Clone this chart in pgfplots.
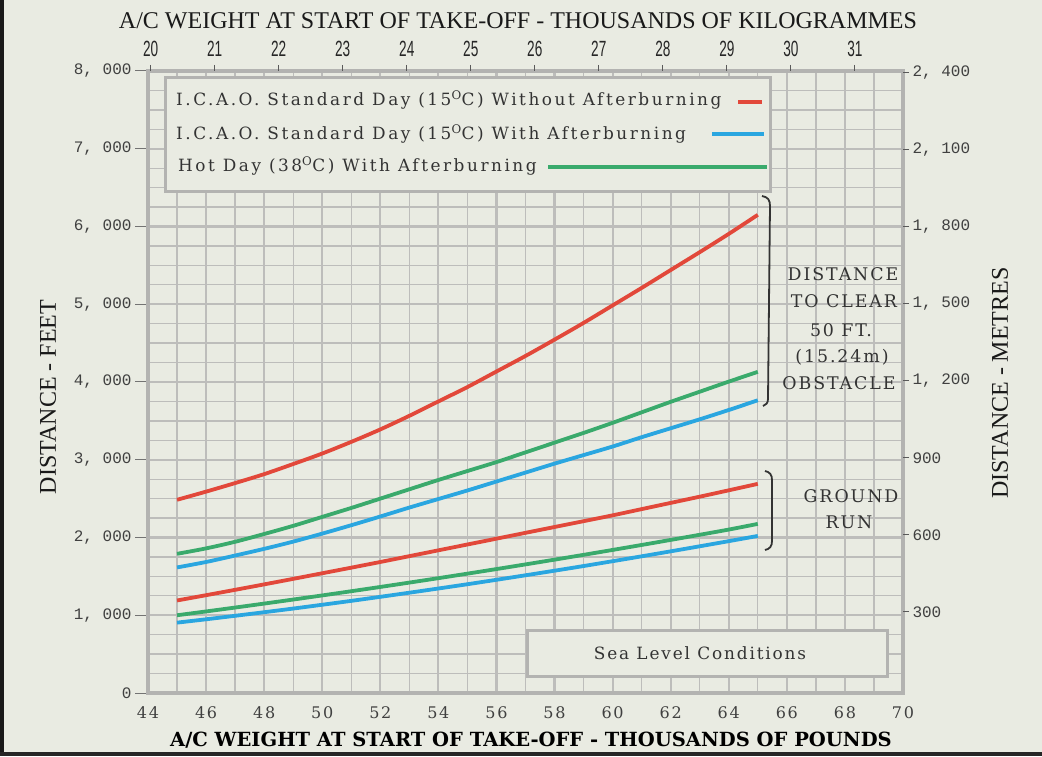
\documentclass[border=0pt]{standalone}
\usepackage{fontspec}
\setmainfont{DejaVu Serif}
\usepackage{pgfplots}
\pgfplotsset{compat=1.18}
\newfontfamily\mono{Liberation Mono}
\newfontfamily\tw[LetterSpace=11]{DejaVu Serif}
\newfontfamily\legfont[LetterSpace=15]{DejaVu Serif}
\newfontfamily\ttl{Liberation Serif}
\newfontfamily\narrow[FakeStretch=0.62]{Liberation Sans}
\definecolor{bg}{HTML}{E9EBE2}
\definecolor{gridc}{HTML}{BDBDBB}
\definecolor{framec}{HTML}{B3B3B1}
\definecolor{cred}{HTML}{E2483A}
\definecolor{cblue}{HTML}{2AA6E0}
\definecolor{cgreen}{HTML}{3AAA6C}

\begin{document}
\begin{tikzpicture}[x=1pt,y=1pt]
\fill[bg] (0,0) rectangle (1042,756);
\useasboundingbox (0,0) rectangle (1042,756);
\fill[black!90] (0,0) rectangle (4,756);
\fill[black!85] (0,0) rectangle (1042,4);

% main axis: pounds / feet
\begin{axis}[at={(148pt,63pt)}, anchor=south west, scale only axis,
 width=755pt, height=622pt,
 xmin=44, xmax=70, ymin=0, ymax=8000,
 xtick={44,46,...,70}, minor x tick num=1,
 ytick={0,1000,...,8000}, minor y tick num=3,
 grid=both,
 major grid style={gridc, line width=2.2pt},
 minor grid style={gridc, line width=1.3pt},
 axis line style={framec, line width=3.5pt},
 major tick length=0pt, minor tick length=0pt,
 xticklabels={44,46,48,50,52,54,56,58,60,62,64,66,68,70},
 yticklabels={0,{1, 000},{2, 000},{3, 000},{4, 000},{5, 000},{6, 000},{7, 000},{8, 000}},
 xticklabel style={font=\fontsize{16}{16}\selectfont\tw, yshift=-10pt, text=black!75},
 yticklabel style={font=\fontsize{16}{16}\selectfont\mono, xshift=-13pt, text=black!75},
]
% distance to clear 50 ft obstacle
\addplot[cred, line width=3.8pt, smooth] coordinates {
 (45,2485) (46,2590) (47,2700) (48,2815) (49,2945) (50,3080) (51,3230)
 (52,3390) (53,3565) (54,3750) (55,3935) (56,4135) (57,4335) (58,4545)
 (59,4760) (60,4985) (61,5210) (62,5440) (63,5670) (64,5905) (65,6150)};
\addplot[cblue, line width=3.8pt, smooth] coordinates {
 (45,1615) (46,1685) (47,1768) (48,1854) (49,1947) (50,2050) (51,2158)
 (52,2270) (53,2385) (54,2495) (55,2605) (56,2720) (57,2835) (58,2950)
 (59,3060) (60,3170) (61,3290) (62,3405) (63,3520) (64,3640) (65,3765)};
\addplot[cgreen, line width=3.8pt, smooth] coordinates {
 (45,1790) (46,1860) (47,1945) (48,2045) (49,2150) (50,2265) (51,2380)
 (52,2500) (53,2620) (54,2740) (55,2855) (56,2970) (57,3095) (58,3220)
 (59,3345) (60,3475) (61,3610) (62,3745) (63,3875) (64,4005) (65,4130)};
% ground run
\addplot[cred, line width=3.8pt, smooth] coordinates {
 (45,1190) (46,1258) (47,1327) (48,1397) (49,1468) (50,1540) (51,1612)
 (52,1685) (53,1760) (54,1835) (55,1910) (56,1985) (57,2060) (58,2135)
 (59,2210) (60,2285) (61,2365) (62,2445) (63,2525) (64,2607) (65,2690)};
\addplot[cgreen, line width=3.8pt, smooth] coordinates {
 (45,1000) (46,1049) (47,1099) (48,1150) (49,1202) (50,1255) (51,1309)
 (52,1364) (53,1420) (54,1477) (55,1535) (56,1594) (57,1654) (58,1715)
 (59,1777) (60,1840) (61,1904) (62,1969) (63,2035) (64,2102) (65,2175)};
\addplot[cblue, line width=3.8pt, smooth] coordinates {
 (45,905) (46,948) (47,993) (48,1039) (49,1086) (50,1135) (51,1185)
 (52,1237) (53,1290) (54,1344) (55,1399) (56,1456) (57,1514) (58,1573)
 (59,1633) (60,1695) (61,1758) (62,1822) (63,1887) (64,1953) (65,2020)};
\end{axis}

% second axis: kilogrammes / metres
\begin{axis}[at={(148pt,63pt)}, anchor=south west, scale only axis,
 width=755pt, height=622pt,
 xmin=19.9581, xmax=31.7515, ymin=-15.6, ymax=2407.8,
 axis x line*=top, axis y line*=right, axis line style={draw=none},
 xtick={20,...,31}, ytick={300,600,...,2400},
 xticklabels={20,21,22,23,24,25,26,27,28,29,30,31},
 yticklabels={300,600,900,{1, 200},{1, 500},{1, 800},{2, 100},{2, 400}},
 tick align=outside, major tick length=6pt,
 tick style={black!65, line width=1pt},
 xticklabel style={font=\fontsize{22}{22}\selectfont\narrow, yshift=5pt, text=black!85},
 yticklabel style={font=\fontsize{16}{16}\selectfont\mono, text=black!75},
]
\addplot[draw=none] coordinates {(20,0)};
\end{axis}

% left tick dashes
\foreach \v in {0,...,8} \draw[black!55, line width=1pt] (135,63+\v*77.75) -- (146,63+\v*77.75);

% titles
\node[font=\fontsize{24}{24}\selectfont\ttl, text=black!90] at (518,735) {A/C WEIGHT AT START OF TAKE-OFF - THOUSANDS OF KILOGRAMMES};
\node[font=\fontsize{19.5}{20}\selectfont\bfseries, text=black] at (531,16) {A/C WEIGHT AT START OF TAKE-OFF - THOUSANDS OF POUNDS};
\node[rotate=90, font=\fontsize{24}{24}\selectfont\ttl, text=black!90] at (48,359) {DISTANCE - FEET};
\node[rotate=90, font=\fontsize{24}{24}\selectfont\ttl, text=black!90] at (1000,373) {DISTANCE - METRES};

% legend
\draw[framec, line width=3pt, fill=bg] (165,564) rectangle (770,678);
\begin{scope}[font=\fontsize{16.9}{17}\selectfont\legfont, text=black!80]
\node[anchor=base west, inner sep=0] at (176,650) {I.C.A.O. Standard Day (15\textsuperscript{O}C) Without Afterburning};
\node[anchor=base west, inner sep=0] at (176,616) {I.C.A.O. Standard Day (15\textsuperscript{O}C) With Afterburning};
\node[anchor=base west, inner sep=0] at (178,584) {Hot Day (38\textsuperscript{O}C) With Afterburning};
\end{scope}
\draw[cred, line width=3.8pt] (738,654) -- (762,654);
\draw[cblue, line width=3.8pt] (712,622) -- (764,622);
\draw[cgreen, line width=3.8pt] (548,589) -- (767,589);

% sea level box
\draw[framec, line width=3pt, fill=bg] (527,80) rectangle (887,126);
\node[font=\fontsize{16.9}{17}\selectfont\tw, text=black!80] at (700,103) {Sea Level Conditions};

% braces and labels
\draw[black!80, line width=1.8pt] (762,560) .. controls (768,559) and (770,556) .. (770,550) -- (768,357) .. controls (768,353) and (766,351) .. (763,350);
\draw[black!80, line width=1.8pt] (765,285) .. controls (770,284) and (772,281) .. (772,276) -- (772,215) .. controls (772,210) and (770,207) .. (765,206);
\begin{scope}[font=\fontsize{17.4}{18}\selectfont\tw, text=black!80]
\node[anchor=base, inner sep=0] at (843,475) {DISTANCE};
\node[anchor=base, inner sep=0] at (844,448) {TO CLEAR};
\node[anchor=base, inner sep=0] at (841,419) {50 FT.};
\node[anchor=base, inner sep=0] at (842,393) {(15.24m)};
\node[anchor=base, inner sep=0] at (839,366) {OBSTACLE};
\node[anchor=base, inner sep=0] at (851,253) {GROUND};
\node[anchor=base, inner sep=0] at (849,228) {RUN};
\end{scope}
\end{tikzpicture}
\end{document}
